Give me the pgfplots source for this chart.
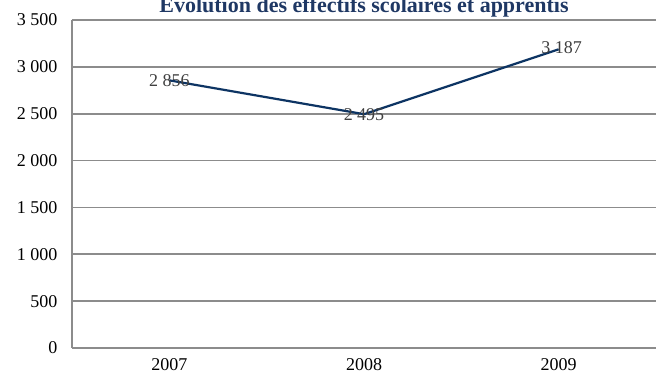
\documentclass[border=0pt]{standalone}
\usepackage{fontspec}
\setmainfont{Liberation Serif}
\usepackage{pgfplots}
\pgfplotsset{compat=1.18}
\definecolor{lineblue}{HTML}{0D3463}
\definecolor{titleblue}{HTML}{1F3864}
\definecolor{gridgray}{HTML}{8C8C8C}
\definecolor{labelgray}{HTML}{404040}

\begin{document}
\begin{tikzpicture}
\begin{axis}[
    anchor=south west, at={(72pt,31pt)},
    scale only axis, width=584pt, height=328pt,
    xmin=-0.5, xmax=2.5, ymin=0, ymax=3500,
    axis x line=bottom, axis y line=left,
    axis line style={-, gridgray, line width=1.6pt},
    xtick={0,1,2}, xticklabels={2007,2008,2009},
    major x tick style={draw=none},
    extra x ticks={-0.5,0.5,1.5}, extra x tick labels={},
    extra x tick style={tick style={gridgray, line width=1.6pt}, major tick length=8pt, tick align=outside, grid=none},
    ytick={0,500,...,3500},
    ymajorgrids, grid style={gridgray, line width=1.6pt},
    y tick style={draw=none},
    /pgf/number format/1000 sep={\ },
    /pgf/number format/assume math mode=true,
    tick label style={font=\fontsize{18}{20}\selectfont, text=black},
    xticklabel style={yshift=-5pt},
    yticklabel style={xshift=-9pt},
    clip=false,
]
\addplot[lineblue, line width=2.2pt, mark=none] coordinates {(0,2856) (1,2495) (2,3187)};
\node[labelgray, font=\fontsize{18}{20}\selectfont] at (axis cs:0,2856) {2 856};
\node[labelgray, font=\fontsize{18}{20}\selectfont] at (axis cs:1,2495) {2 495};
\node[labelgray, font=\fontsize{18}{20}\selectfont, xshift=3pt, yshift=2pt] at (axis cs:2,3187) {3 187};
\end{axis}
\node[titleblue, font=\bfseries\fontsize{22}{24}\selectfont, anchor=base] at (364pt,366pt) {Évolution des effectifs scolaires et apprentis};
\pgfresetboundingbox
\path[use as bounding box] (0,0) rectangle (656pt,379pt);
\end{tikzpicture}
\end{document}
